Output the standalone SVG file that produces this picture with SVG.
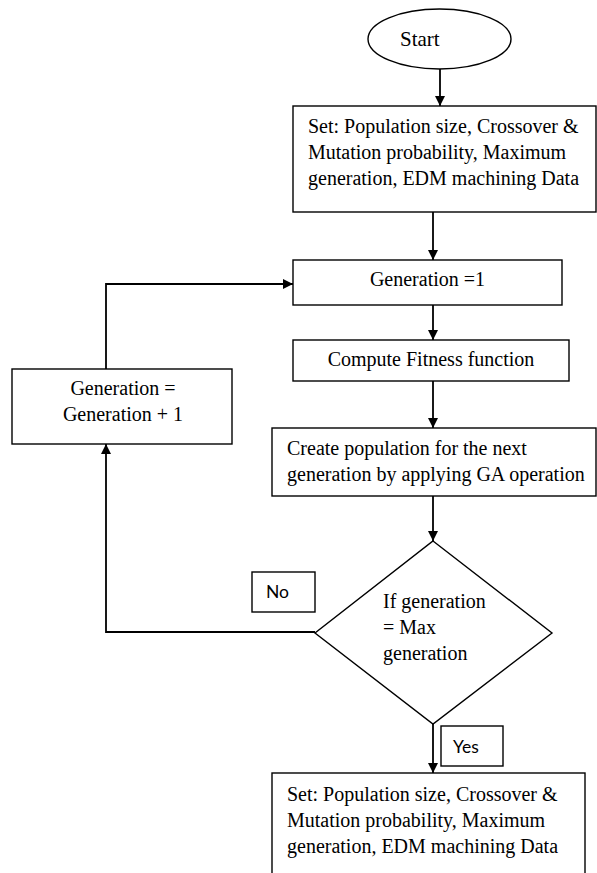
<svg xmlns="http://www.w3.org/2000/svg" width="597" height="873" viewBox="0 0 597 873">
<style>
.b{fill:#fff;stroke:#000;stroke-width:1.4}
.t{font-family:"Liberation Serif","Times New Roman",serif;font-size:20px;fill:#000}
.c{text-anchor:middle}
.s{font-family:Lato,"Liberation Sans",sans-serif;font-size:17.5px;fill:#000}
.k{fill:none;stroke:#000;stroke-width:1.8}
</style>
<defs>
<marker id="a" viewBox="0 0 10 10" refX="10" refY="5" markerWidth="10" markerHeight="10" markerUnits="userSpaceOnUse" orient="auto">
<path d="M0,0 L10,5 L0,10 z" fill="#000"/>
</marker>
</defs>
<rect width="597" height="873" fill="#fff"/>
<g id="connectors">
<line class="k" x1="440" y1="69" x2="440" y2="106" marker-end="url(#a)"/>
<line class="k" x1="433" y1="212" x2="433" y2="260" marker-end="url(#a)"/>
<line class="k" x1="433" y1="305" x2="433" y2="340" marker-end="url(#a)"/>
<line class="k" x1="433" y1="381" x2="433" y2="428" marker-end="url(#a)"/>
<line class="k" x1="433" y1="496" x2="433" y2="541" marker-end="url(#a)"/>
<line class="k" x1="433" y1="724" x2="433" y2="773" marker-end="url(#a)"/>
<polyline class="k" points="315,632 106,632 106,444" marker-end="url(#a)"/>
<polyline class="k" points="106,369 106,284 293,284" marker-end="url(#a)"/>
</g>
<g id="start">
<ellipse class="b" cx="439.5" cy="39" rx="71.5" ry="30"/>
<text class="t" x="400" y="46" style="font-size:21px">Start</text>
</g>
<g id="set1">
<rect class="b" x="293" y="106" width="303" height="106"/>
<text class="t" x="308" y="133">Set: Population size, Crossover &amp;</text>
<text class="t" x="308" y="159">Mutation probability, Maximum</text>
<text class="t" x="308" y="185">generation, EDM machining Data</text>
</g>
<g id="gen1">
<rect class="b" x="293" y="260" width="269" height="45"/>
<text class="t c" x="427.5" y="286">Generation =1</text>
</g>
<g id="fitness">
<rect class="b" x="293" y="340" width="276" height="41"/>
<text class="t c" x="431" y="366">Compute Fitness function</text>
</g>
<g id="geninc">
<rect class="b" x="12" y="369" width="220" height="75"/>
<text class="t c" x="123" y="395">Generation =</text>
<text class="t c" x="123" y="421">Generation + 1</text>
</g>
<g id="create">
<rect class="b" x="272" y="428" width="324" height="68"/>
<text class="t" x="287" y="455">Create population for the next</text>
<text class="t" x="287" y="481">generation by applying GA operation</text>
</g>
<g id="decision">
<polygon class="b" points="433,541 552,633 433,724 315,633"/>
<text class="t" x="383" y="608">If generation</text>
<text class="t" x="383" y="634">= Max</text>
<text class="t" x="383" y="660">generation</text>
</g>
<g id="no">
<rect class="b" x="252" y="572" width="63" height="40"/>
<text class="s" x="266" y="598">No</text>
</g>
<g id="yes">
<rect class="b" x="441" y="726" width="62" height="40"/>
<text class="s" x="453" y="753">Yes</text>
</g>
<g id="set2">
<rect class="b" x="272" y="773" width="313" height="110"/>
<text class="t" x="287" y="801">Set: Population size, Crossover &amp;</text>
<text class="t" x="287" y="827">Mutation probability, Maximum</text>
<text class="t" x="287" y="853">generation, EDM machining Data</text>
</g>
</svg>
